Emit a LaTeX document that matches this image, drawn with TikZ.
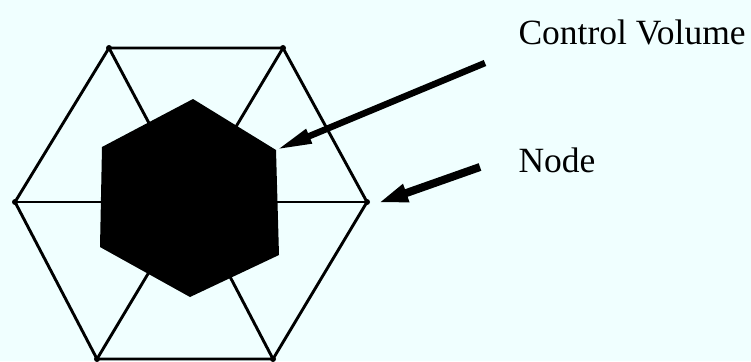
\documentclass[tikz,border=0pt]{standalone}
\usepackage{fontspec}
\setmainfont{Liberation Serif}
\usepackage{xcolor}
\usetikzlibrary{arrows.meta}
\definecolor{bgcyan}{HTML}{F0FFFF}

\begin{document}
\begin{tikzpicture}[x=1pt,y=-1pt]
    % Stili per nodi, lati ed etichette
    \tikzset{
        mesh point/.style={
            circle,
            fill=black,
            inner sep=0pt,
            minimum size=6pt
        },
        mesh line/.style={line width=2.9pt, line join=round},
        label text/.style={anchor=base west, font=\fontsize{35.5}{42}\selectfont}
    }

    % Sfondo
    \fill[bgcyan] (0,0) rectangle (751,361);
    \useasboundingbox (0,0) rectangle (751,361);

    % Nodi della griglia
    \node[mesh point] (n1) at (109,48) {};
    \node[mesh point] (n2) at (283,48) {};
    \node[mesh point] (n3) at (367,202) {};
    \node[mesh point] (n4) at (273,359) {};
    \node[mesh point] (n5) at (97,359) {};
    \node[mesh point] (n6) at (15,202) {};
    \coordinate (c) at (191,202);

    % Lati e raggi
    \draw[mesh line] (n1.center) -- (n2.center) -- (n3.center) -- (n4.center)
        -- (n5.center) -- (n6.center) -- cycle;
    \foreach \k in {1,...,6}
        \draw[mesh line] (c) -- (n\k.center);

    % Volume di controllo
    \coordinate (v1) at (193,99);
    \coordinate (v2) at (276,150);
    \coordinate (v3) at (279,255);
    \coordinate (v4) at (190,297);
    \coordinate (v5) at (100,247);
    \coordinate (v6) at (102,147);
    \fill[black] (v1) -- (v2) -- (v3) -- (v4) -- (v5) -- (v6) -- cycle;

    % Etichette e frecce
    \node[label text] (cv) at (515,45) {Control Volume};
    \node[label text] (nd) at (515,172) {Node};

    \coordinate (cv tail) at (485,63);
    \draw[line width=6.5pt, -{Triangle[length=36pt,width=14pt]}] (cv tail) -- (v2);

    \coordinate (nd tail) at (480,167);
    \coordinate (nd tip) at (378,203);
    \draw[line width=8pt, -{Triangle[length=30pt,width=17pt]}] (nd tail) -- (nd tip);
\end{tikzpicture}
\end{document}
